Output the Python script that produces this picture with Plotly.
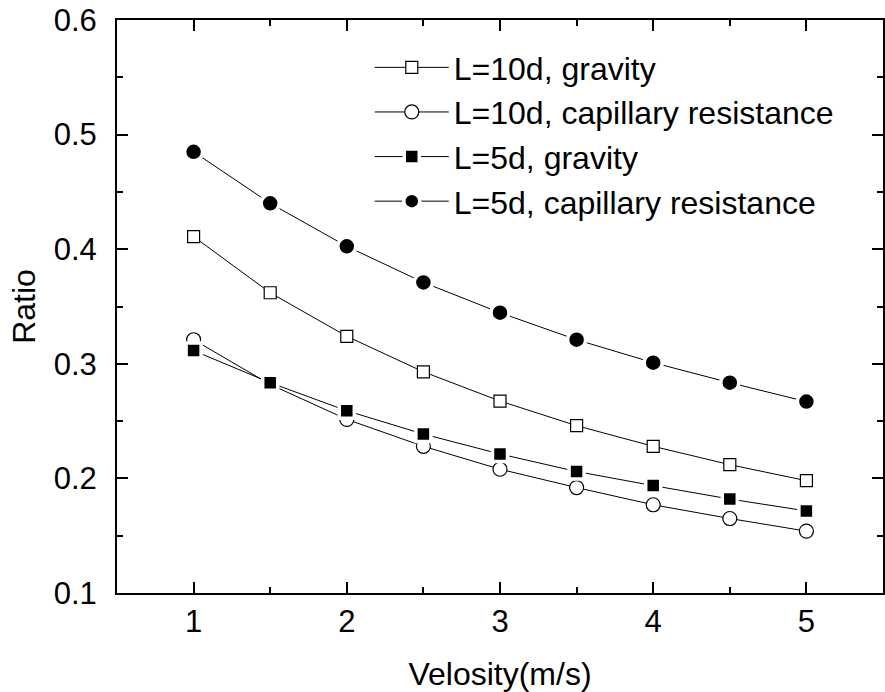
import plotly.graph_objects as go

# Velocity values (m/s)
velocity = [1.0, 1.5, 2.0, 2.5, 3.0, 3.5, 4.0, 4.5, 5.0]

# Ratio for each case
l10_gravity = [0.411, 0.362, 0.324, 0.293, 0.2675, 0.246, 0.228, 0.212, 0.198]
l10_capillary = [0.321, 0.282, 0.2515, 0.228, 0.208, 0.192, 0.177, 0.165, 0.154]
l5_gravity = [0.3115, 0.2835, 0.259, 0.2387, 0.2213, 0.206, 0.1937, 0.182, 0.1716]
l5_capillary = [0.485, 0.440, 0.4025, 0.371, 0.3446, 0.321, 0.301, 0.2835, 0.267]

series_names = [
    "L=10d, gravity",
    "L=10d, capillary resistance",
    "L=5d, gravity",
    "L=5d, capillary resistance",
]

FONT = "Liberation Sans, Arial, sans-serif"

styles = [
    dict(symbol="square", size=12, color="white", line=dict(color="black", width=1.2)),
    dict(symbol="circle", size=14, color="white", line=dict(color="black", width=1.2)),
    dict(symbol="square", size=15, color="black", line=dict(color="white", width=3.5)),
    dict(symbol="circle", size=18, color="black", line=dict(color="white", width=3.5)),
]

fig = go.Figure()
for name, ys, mk in zip(series_names,
                        [l10_gravity, l10_capillary, l5_gravity, l5_capillary],
                        styles):
    fig.add_trace(go.Scatter(
        x=velocity, y=ys, name=name, mode="lines+markers",
        line=dict(color="black", width=1),
        marker=mk,
        cliponaxis=False,
    ))

axis_common = dict(
    showgrid=False, zeroline=False,
    showline=True, linecolor="black", linewidth=2,
    mirror="allticks", ticks="inside", ticklen=11, tickwidth=2, tickcolor="black",
    tickfont=dict(family=FONT, size=31, color="black"),
)

fig.update_xaxes(
    **axis_common,
    range=[0.5, 5.5], tickvals=[1, 2, 3, 4, 5],
    minor=dict(ticks="inside", ticklen=6, tickwidth=2, tickcolor="black", dtick=0.5, tick0=0.5),
    title=dict(text="Velosity(m/s)", font=dict(family=FONT, size=32, color="black"), standoff=28),
)
fig.update_yaxes(
    **axis_common,
    range=[0.1, 0.6], tickvals=[0.1, 0.2, 0.3, 0.4, 0.5, 0.6],
    tickformat=".1f", ticklabelstandoff=12,
    minor=dict(ticks="inside", ticklen=6, tickwidth=2, tickcolor="black", dtick=0.05, tick0=0.1),
    title=dict(text="Ratio", font=dict(family=FONT, size=32, color="black"), standoff=8),
)

fig.update_layout(
    width=885, height=692,
    margin=dict(l=117, r=0, t=20, b=99),
    paper_bgcolor="white", plot_bgcolor="white",
    showlegend=True,
    legend=dict(
        x=0.33, y=0.965, xanchor="left", yanchor="top",
        bgcolor="rgba(0,0,0,0)", borderwidth=0,
        font=dict(family=FONT, size=32, color="black"),
        itemwidth=74, tracegroupgap=0,
    ),
)

fig.write_html("out.html")
